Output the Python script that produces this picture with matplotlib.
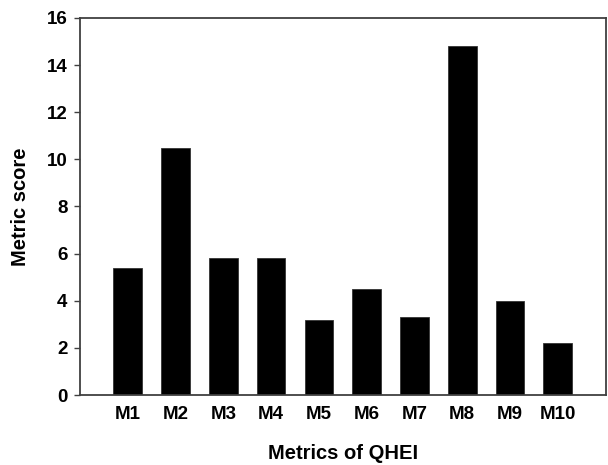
import matplotlib
matplotlib.use("Agg")
import matplotlib.pyplot as plt

# données
metrics = ["M1", "M2", "M3", "M4", "M5", "M6", "M7", "M8", "M9", "M10"]
scores = [5.4, 10.5, 5.8, 5.8, 3.2, 4.5, 3.3, 14.8, 4.0, 2.2]
y_ticks = [0, 2, 4, 6, 8, 10, 12, 14, 16]

plt.rcParams["font.family"] = ["Liberation Sans", "DejaVu Sans"]
plt.rcParams["font.weight"] = "bold"

fig = plt.figure(figsize=(6.08, 4.65), dpi=100)
ax = fig.add_axes([80 / 608, 70 / 465, 525.5 / 608, 377 / 465])

positions = range(1, len(metrics) + 1)
ax.bar(positions, scores, width=0.6, color="black", edgecolor="#333333", linewidth=0.6)

ax.set_xlim(0, len(metrics) + 1)
ax.set_ylim(0, 16)
ax.set_xticks(list(positions))
ax.set_xticklabels(metrics, fontsize=13.5, fontweight="bold")
ax.set_yticks(y_ticks)
ax.set_yticklabels([str(v) for v in y_ticks], fontsize=13.5, fontweight="bold")
ax.tick_params(axis="x", length=0, pad=8)
ax.tick_params(axis="y", direction="out", length=4, width=1, color="#404040", pad=5)

for side in ax.spines.values():
    side.set_color("#404040")
    side.set_linewidth(1.3)

ax.set_xlabel("Metrics of QHEI", fontsize=14.5, fontweight="bold", labelpad=15)
ax.set_ylabel("Metric score", fontsize=14.5, fontweight="bold", labelpad=12)

fig.savefig("out.png", dpi=100)
